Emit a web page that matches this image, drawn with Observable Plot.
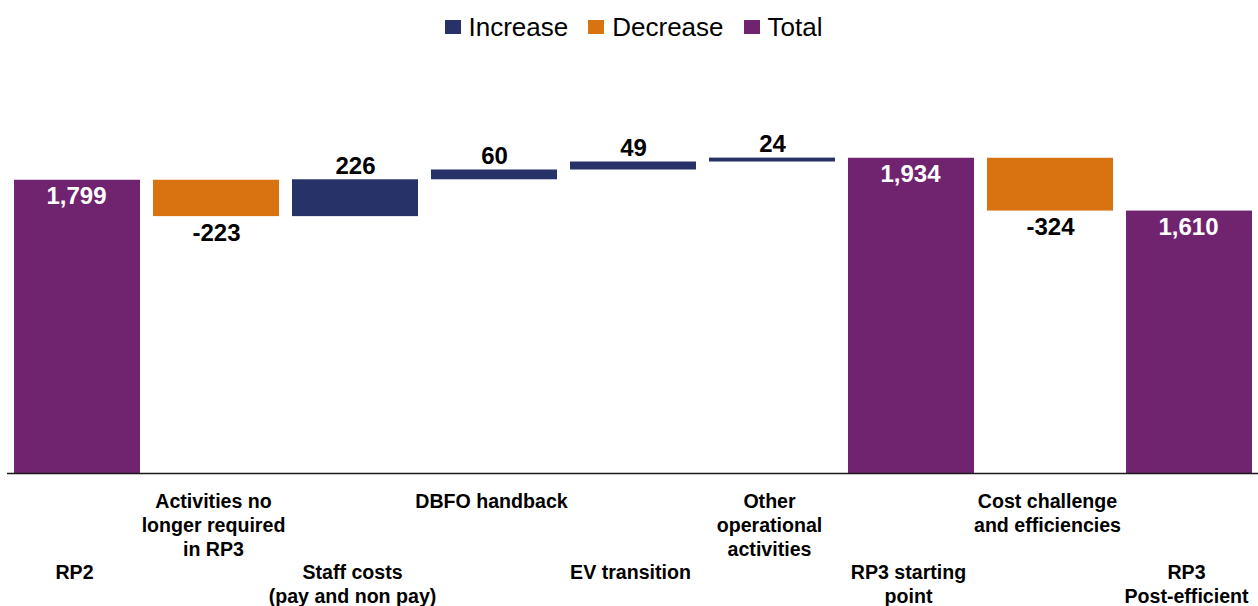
<!DOCTYPE html>
<html><head><meta charset="utf-8">
<script src="https://cdn.jsdelivr.net/npm/d3@7"></script>
<script src="https://cdn.jsdelivr.net/npm/@observablehq/plot@0.6"></script>
<style>
html,body{margin:0;padding:0;background:#fff;}
body{width:1258px;height:606px;overflow:hidden;font-family:"Liberation Sans",Arial,sans-serif;}
#legend{height:50px;display:flex;justify-content:center;align-items:center;padding-left:9px;padding-top:4px;box-sizing:border-box;font-size:26px;color:#000;}
#legend .item{display:flex;align-items:center;margin-right:20px;}
#legend .item:last-child{margin-right:0;}
#legend .sw{width:16px;height:14px;margin-right:8px;}
#chart svg{display:block;}
</style></head><body>
<div id="legend"></div>
<div id="chart"></div>
<script>
const categories = ["RP2","Activities no longer required in RP3","Staff costs (pay and non pay)","DBFO handback","EV transition","Other operational activities","RP3 starting point","Cost challenge and efficiencies","RP3 Post-efficient"];
const tickLabels = ["RP2","Activities no\nlonger required\nin RP3","Staff costs\n(pay and non pay)","DBFO handback","EV transition","Other\noperational\nactivities","RP3 starting\npoint","Cost challenge\nand efficiencies","RP3\nPost-efficient"];
const labelRows = ["lower","upper","lower","upper","lower","upper","lower","upper","lower"];
const values = [1799,-223,226,60,49,24,1934,-324,1610];
const kinds = ["Total","Decrease","Increase","Increase","Increase","Increase","Total","Decrease","Total"];
const valueLabels = ["1,799","-223","226","60","49","24","1,934","-324","1,610"];
const legendItems = ["Increase","Decrease","Total"];
const colors = ["#263268","#D97311","#702470"];

// waterfall rows
let running = 0;
const rows = categories.map((c, i) => {
  let y1, y2;
  if (kinds[i] === "Total") { y1 = 0; y2 = values[i]; running = values[i]; }
  else { y1 = running; y2 = running + values[i]; running = y2; }
  return {category: c, tick: tickLabels[i], row: labelRows[i], kind: kinds[i], y1, y2, label: valueLabels[i]};
});

// legend
const leg = document.getElementById("legend");
legendItems.forEach((name, i) => {
  const it = document.createElement("div"); it.className = "item";
  const sw = document.createElement("div"); sw.className = "sw"; sw.style.background = colors[i];
  const tx = document.createElement("span"); tx.textContent = name;
  it.appendChild(sw); it.appendChild(tx); leg.appendChild(it);
});

const font = '"Liberation Sans", Arial, sans-serif';
const plot = Plot.plot({
  width: 1258, height: 556,
  marginLeft: 7, marginRight: 0, marginTop: 97, marginBottom: 133,
  x: {domain: categories, paddingInner: 0.094, paddingOuter: 0.047, axis: null},
  y: {domain: [0, 2000], axis: null},
  color: {domain: legendItems, range: colors},
  style: {fontFamily: font, background: "white", overflow: "visible"},
  marks: [
    Plot.barY(rows, {x: "category", y1: "y1", y2: "y2", fill: "kind"}),
    Plot.ruleY([0], {stroke: "#1a1a1a", strokeWidth: 1.6}),
    Plot.text(rows.filter(d => d.kind === "Total"), {x: "category", y: "y2", text: "label", fill: "white", fontSize: 24, fontWeight: "bold", lineAnchor: "top", dy: 7, dx: -1}),
    Plot.text(rows.filter(d => d.kind === "Increase"), {x: "category", y: "y2", text: "label", fill: "#000", fontSize: 24, fontWeight: "bold", lineAnchor: "bottom", dy: -6}),
    Plot.text(rows.filter(d => d.kind === "Decrease"), {x: "category", y: "y2", text: "label", fill: "#000", fontSize: 24, fontWeight: "bold", lineAnchor: "top", dy: 7}),
    Plot.text(rows.filter(d => d.row === "upper"), {x: "category", frameAnchor: "bottom", text: "tick", fill: "#000", fontSize: 19.6, fontWeight: "bold", lineAnchor: "top", lineHeight: 24/19.6, dy: 17.5, dx: -3}),
    Plot.text(rows.filter(d => d.row === "lower"), {x: "category", frameAnchor: "bottom", text: "tick", fill: "#000", fontSize: 19.6, fontWeight: "bold", lineAnchor: "top", lineHeight: 24/19.6, dy: 88.5, dx: -3})
  ]
});
document.getElementById("chart").appendChild(plot);
</script>
</body></html>
